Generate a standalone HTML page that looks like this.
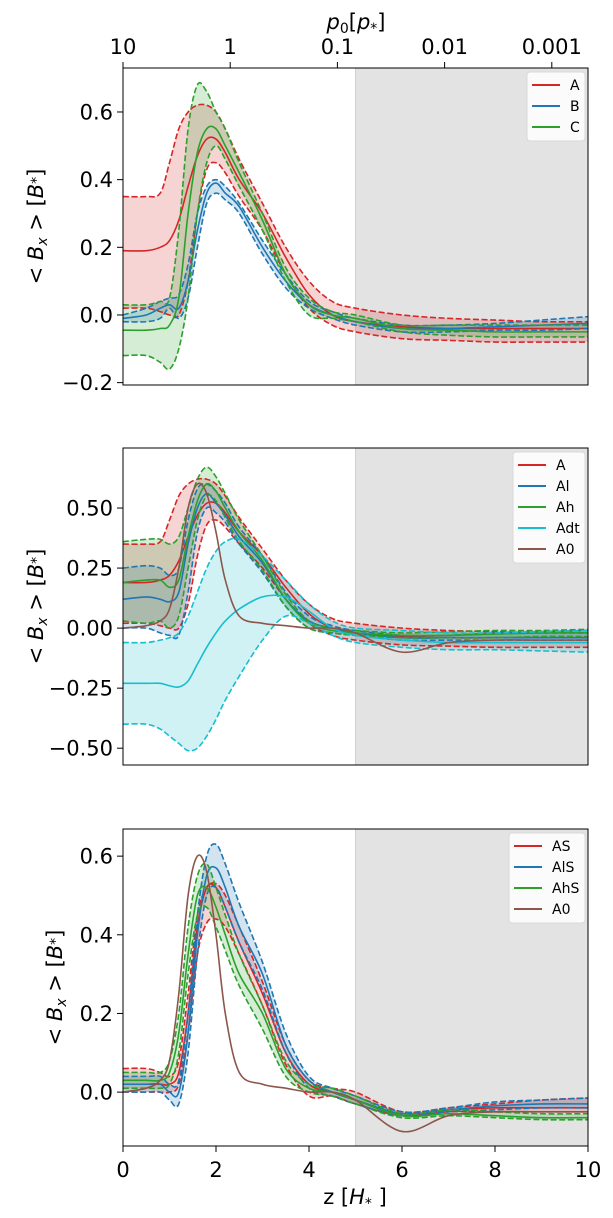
<!DOCTYPE html>
<html><head><meta charset="utf-8"><style>
html,body{margin:0;padding:0;background:#fff;}
svg{display:block;font-family:"DejaVu Sans","Liberation Sans",sans-serif;}
</style></head><body>
<svg id="fig" width="613" height="1218" viewBox="0 0 613 1218" xmlns="http://www.w3.org/2000/svg"></svg>
<script>
const zGrid=[0,0.5,0.8,1,1.2,1.4,1.6,1.8,2,2.2,2.5,3,3.5,4,4.5,5,6,7,8,9,10];
// Panel 1
const p1_A=[0.19,0.19,0.2,0.22,0.28,0.38,0.47,0.52,0.52,0.48,0.4,0.3,0.17,0.06,0.0,-0.02,-0.035,-0.04,-0.04,-0.04,-0.04];
const p1_A_up=[0.35,0.35,0.36,0.45,0.55,0.6,0.62,0.62,0.6,0.55,0.46,0.33,0.2,0.1,0.04,0.02,0.0,-0.01,-0.015,-0.02,-0.02];
const p1_A_lo=[0.02,0.02,0.01,0.0,0.0,0.1,0.3,0.43,0.45,0.42,0.35,0.25,0.12,0.02,-0.03,-0.05,-0.07,-0.075,-0.08,-0.08,-0.08];
const p1_B=[-0.01,0.0,0.02,0.03,0.02,0.1,0.25,0.36,0.39,0.36,0.32,0.2,0.1,0.03,0.0,-0.02,-0.04,-0.04,-0.035,-0.03,-0.025];
const p1_B_up=[0.0,0.02,0.04,0.05,0.06,0.15,0.3,0.38,0.4,0.38,0.33,0.22,0.12,0.04,0.01,-0.01,-0.03,-0.03,-0.025,-0.015,-0.005];
const p1_B_lo=[-0.02,-0.02,-0.01,0.02,-0.01,0.05,0.2,0.33,0.36,0.34,0.3,0.18,0.08,0.02,-0.01,-0.03,-0.05,-0.05,-0.045,-0.045,-0.04];
const p1_C=[-0.045,-0.045,-0.04,-0.03,0.05,0.3,0.48,0.55,0.55,0.5,0.42,0.28,0.12,0.03,0.0,-0.01,-0.04,-0.045,-0.05,-0.05,-0.05];
const p1_C_up=[0.03,0.03,0.04,0.05,0.25,0.55,0.68,0.66,0.6,0.55,0.45,0.3,0.14,0.05,0.01,0.0,-0.03,-0.03,-0.03,-0.03,-0.03];
const p1_C_lo=[-0.12,-0.12,-0.14,-0.16,-0.1,0.05,0.3,0.45,0.5,0.46,0.38,0.25,0.1,0.0,-0.01,-0.02,-0.05,-0.06,-0.065,-0.065,-0.065];
// Panel 2
const p2_Al=[0.12,0.13,0.12,0.11,0.15,0.35,0.5,0.56,0.52,0.47,0.38,0.27,0.12,0.03,0.0,-0.02,-0.04,-0.04,-0.04,-0.04,-0.04];
const p2_Al_up=[0.25,0.26,0.25,0.22,0.25,0.45,0.58,0.6,0.57,0.52,0.42,0.3,0.15,0.05,0.01,-0.01,-0.03,-0.03,-0.02,-0.015,-0.01];
const p2_Al_lo=[0.0,0.0,-0.02,-0.03,-0.03,0.15,0.4,0.5,0.48,0.44,0.35,0.23,0.09,0.0,-0.02,-0.03,-0.05,-0.05,-0.05,-0.05,-0.05];
const p2_Ah=[0.19,0.2,0.2,0.17,0.2,0.38,0.53,0.6,0.57,0.5,0.4,0.28,0.12,0.02,-0.01,-0.02,-0.03,-0.03,-0.025,-0.02,-0.02];
const p2_Ah_up=[0.36,0.37,0.37,0.35,0.38,0.5,0.62,0.67,0.63,0.56,0.45,0.3,0.14,0.03,0.0,-0.01,-0.02,-0.015,-0.01,-0.01,-0.005];
const p2_Ah_lo=[0.03,0.02,0.03,0.0,0.05,0.25,0.45,0.55,0.53,0.46,0.36,0.24,0.09,0.0,-0.02,-0.03,-0.04,-0.04,-0.04,-0.035,-0.035];
const p2_Adt=[-0.23,-0.23,-0.23,-0.24,-0.245,-0.22,-0.15,-0.08,-0.02,0.03,0.08,0.13,0.13,0.07,0.0,-0.03,-0.05,-0.06,-0.06,-0.06,-0.06];
const p2_Adt_up=[-0.06,-0.06,-0.05,-0.04,-0.02,0.05,0.15,0.25,0.32,0.36,0.37,0.3,0.2,0.1,0.03,0.0,-0.01,-0.02,-0.02,-0.015,-0.01];
const p2_Adt_lo=[-0.4,-0.4,-0.42,-0.45,-0.48,-0.51,-0.5,-0.45,-0.38,-0.3,-0.2,-0.05,0.05,0.02,-0.03,-0.06,-0.08,-0.09,-0.09,-0.095,-0.1];
const A0=[0.0,0.01,0.03,0.08,0.25,0.5,0.6,0.56,0.4,0.2,0.05,0.02,0.01,0.0,0.0,-0.02,-0.1,-0.06,-0.05,-0.05,-0.05];
// Panel 3
const p3_AS=[0.02,0.02,0.02,0.02,0.05,0.2,0.42,0.52,0.52,0.47,0.38,0.25,0.1,0.02,0.0,-0.02,-0.055,-0.045,-0.04,-0.04,-0.04];
const p3_AS_up=[0.06,0.06,0.05,0.04,0.08,0.25,0.45,0.52,0.53,0.5,0.42,0.28,0.12,0.03,0.01,0.0,-0.05,-0.04,-0.03,-0.02,-0.015];
const p3_AS_lo=[0.0,0.0,0.0,0.0,0.02,0.15,0.35,0.43,0.44,0.42,0.35,0.22,0.07,-0.01,-0.01,-0.03,-0.06,-0.05,-0.05,-0.05,-0.05];
const p3_AlS=[0.02,0.02,0.02,0.0,0.0,0.15,0.4,0.55,0.57,0.52,0.42,0.3,0.12,0.03,0.0,-0.02,-0.055,-0.045,-0.035,-0.03,-0.03];
const p3_AlS_up=[0.04,0.04,0.04,0.02,0.03,0.2,0.45,0.6,0.63,0.58,0.48,0.33,0.15,0.04,0.01,-0.01,-0.05,-0.04,-0.025,-0.02,-0.015];
const p3_AlS_lo=[0.0,0.0,0.0,-0.02,-0.03,0.1,0.35,0.5,0.52,0.47,0.38,0.26,0.1,0.01,-0.01,-0.03,-0.06,-0.05,-0.045,-0.04,-0.04];
const p3_AhS=[0.03,0.03,0.03,0.05,0.15,0.35,0.5,0.52,0.47,0.4,0.3,0.2,0.06,0.01,0.0,-0.02,-0.06,-0.055,-0.06,-0.065,-0.065];
const p3_AhS_up=[0.05,0.05,0.05,0.08,0.2,0.42,0.55,0.58,0.52,0.45,0.35,0.22,0.08,0.02,0.01,-0.01,-0.055,-0.045,-0.05,-0.055,-0.055];
const p3_AhS_lo=[0.01,0.01,0.01,0.02,0.1,0.3,0.45,0.47,0.42,0.36,0.27,0.16,0.04,0.0,-0.01,-0.03,-0.065,-0.06,-0.065,-0.07,-0.07];
const xTicks=[0,2,4,6,8,10];
const pTickLabels=["10","1","0.1","0.01","0.001"];
const p1Ticks=[-0.2,0.0,0.2,0.4,0.6];
const p2Ticks=[-0.5,-0.25,0,0.25,0.5];
const p3Ticks=[0.0,0.2,0.4,0.6];

const NS="http://www.w3.org/2000/svg";
const svg=document.getElementById('fig');
const RED="#d62728",BLUE="#1f77b4",GREEN="#2ca02c",CYAN="#17becf",BROWN="#8c564b";
const FS=21;
function el(tag,attrs,parent){const e=document.createElementNS(NS,tag);for(const k in attrs)e.setAttribute(k,attrs[k]);(parent||svg).appendChild(e);return e;}
const X0=123,X1=588;
const xs=z=>X0+(z/10)*(X1-X0);
function smoothPath(pts){
  let d=`M${pts[0][0]},${pts[0][1]}`;
  for(let i=0;i<pts.length-1;i++){
    const p0=pts[Math.max(0,i-1)],p1=pts[i],p2=pts[i+1],p3=pts[Math.min(pts.length-1,i+2)];
    const c1=[p1[0]+(p2[0]-p0[0])/6,p1[1]+(p2[1]-p0[1])/6];
    const c2=[p2[0]-(p3[0]-p1[0])/6,p2[1]-(p3[1]-p1[1])/6];
    d+=` C${c1[0]},${c1[1]} ${c2[0]},${c2[1]} ${p2[0]},${p2[1]}`;
  }
  return d;
}
function panel(cfg){
  const {top,bot,ymin,ymax,ticks,fmt,name}=cfg;
  const ys=v=>bot-(v-ymin)/(ymax-ymin)*(bot-top);
  const g=el('g',{},svg);
  
  
  const clipId=name+'-clip';
  const cp=el('clipPath',{id:clipId},g);el('rect',{x:X0,y:top,width:X1-X0,height:bot-top},cp);
  const shade=el('rect',{x:xs(5),y:top,width:xs(10)-xs(5),height:bot-top,fill:'#e3e3e3'},g);
  
  
  el('line',{x1:xs(5),x2:xs(5),y1:top,y2:bot,stroke:'#d0d0d0','stroke-width':1},g);
  const plot=el('g',{'clip-path':`url(#${clipId})`},g);
  const toPts=arr=>arr.map((v,i)=>[xs(zGrid[i]),ys(v)]);
  cfg.series.forEach(s=>{
    if(s.up){
      const up=toPts(s.up),lo=toPts(s.lo).reverse();
      const d=smoothPath(up)+' L'+smoothPath(lo).slice(1)+' Z';
      const f=el('path',{d:d,fill:s.c,'fill-opacity':0.2,stroke:'none'},plot);
      
      
    }
  });
  cfg.series.forEach(s=>{
    if(s.up){
      [s.up,s.lo].forEach((a,k)=>{
        const p=el('path',{d:smoothPath(toPts(a)),fill:'none',stroke:s.c,'stroke-width':1.6,'stroke-dasharray':'6,2.6'},plot);
        
        
      });
    }
    const m=el('path',{d:smoothPath(toPts(s.m)),fill:'none',stroke:s.c,'stroke-width':1.6},plot);
    
    
  });
  el('rect',{x:X0,y:top,width:X1-X0,height:bot-top,fill:'none',stroke:'#000','stroke-width':1},g);
  ticks.forEach(t=>{
    const y=ys(t);
    el('line',{x1:X0-6,x2:X0,y1:y,y2:y,stroke:'#000'},g);
    const tx=el('text',{x:X0-10,y:y+7.5,'text-anchor':'end','font-size':FS},g);
    tx.textContent=fmt(t);
    
    
  });
  const yl=el('text',{transform:`translate(${cfg.labelX},${(top+bot)/2}) rotate(-90)`,'text-anchor':'middle','font-size':FS},g);
  yl.innerHTML='&lt; <tspan font-style="italic">B</tspan><tspan font-size="14" dy="4" font-style="italic">x</tspan><tspan dy="-4"> &gt;  [</tspan><tspan font-style="italic">B</tspan><tspan font-size="14" dy="-2">*</tspan><tspan dy="2">]</tspan>';
  
  
  const L=cfg.legend;
  const lg=el('g',{},g);
  
  
  el('rect',{x:L.x,y:L.y,width:L.w,height:cfg.series.length*21+6,rx:3,fill:'#fff','fill-opacity':0.85,stroke:'#d8d8d8'},lg);
  cfg.series.forEach((s,i)=>{
    const yy=L.y+13+i*21;
    const e=el('g',{},lg);
    
    
    el('line',{x1:L.x+5,x2:L.x+33,y1:yy,y2:yy,stroke:s.c,'stroke-width':2},e);
    const t=el('text',{x:L.x+43,y:yy+5,'font-size':14},e);t.textContent=s.n;
  });
  return ys;
}
panel({name:'panel-top',top:68,bot:385,ymin:-0.207,ymax:0.73,ticks:p1Ticks,fmt:t=>(t<0?'\u2212':'')+Math.abs(t).toFixed(1),labelX:43,
 legend:{x:527,y:72,w:58},
 series:[{n:'A',c:RED,m:p1_A,up:p1_A_up,lo:p1_A_lo},{n:'B',c:BLUE,m:p1_B,up:p1_B_up,lo:p1_B_lo},{n:'C',c:GREEN,m:p1_C,up:p1_C_up,lo:p1_C_lo}]});
panel({name:'panel-middle',top:448,bot:765,ymin:-0.57,ymax:0.75,ticks:p2Ticks,fmt:t=>(t<0?'\u2212':'')+Math.abs(t).toFixed(2),labelX:43,
 legend:{x:513,y:452,w:72},
 series:[{n:'A',c:RED,m:p1_A,up:p1_A_up,lo:p1_A_lo},{n:'Al',c:BLUE,m:p2_Al,up:p2_Al_up,lo:p2_Al_lo},{n:'Ah',c:GREEN,m:p2_Ah,up:p2_Ah_up,lo:p2_Ah_lo},{n:'Adt',c:CYAN,m:p2_Adt,up:p2_Adt_up,lo:p2_Adt_lo},{n:'A0',c:BROWN,m:A0}]});
panel({name:'panel-bottom',top:829,bot:1146,ymin:-0.137,ymax:0.669,ticks:p3Ticks,fmt:t=>t.toFixed(1),labelX:62,
 legend:{x:509,y:833,w:76},
 series:[{n:'AS',c:RED,m:p3_AS,up:p3_AS_up,lo:p3_AS_lo},{n:'AlS',c:BLUE,m:p3_AlS,up:p3_AlS_up,lo:p3_AlS_lo},{n:'AhS',c:GREEN,m:p3_AhS,up:p3_AhS_up,lo:p3_AhS_lo},{n:'A0',c:BROWN,m:A0}]});
xTicks.forEach(t=>{
  el('line',{x1:xs(t),x2:xs(t),y1:1146,y2:1152,stroke:'#000'});
  const tx=el('text',{x:xs(t),y:1177,'text-anchor':'middle','font-size':FS});
  tx.textContent=t;
  
  
});
const xl=el('text',{x:355,y:1204,'text-anchor':'middle','font-size':FS});
xl.innerHTML='z [<tspan font-style="italic">H</tspan><tspan font-size="14" dy="4">*</tspan><tspan dy="-4"> ]</tspan>';


pTickLabels.forEach((lab,i)=>{
  const x=X0+i*107.2;
  el('line',{x1:x,x2:x,y1:62,y2:68,stroke:'#000'});
  const tx=el('text',{x:x,y:54,'text-anchor':'middle','font-size':FS});
  tx.textContent=lab;
  
  
});
const tl=el('text',{x:356,y:29,'text-anchor':'middle','font-size':FS});
tl.innerHTML='<tspan font-style="italic">p</tspan><tspan font-size="14" dy="4">0</tspan><tspan dy="-4">[</tspan><tspan font-style="italic">p</tspan><tspan font-size="14" dy="4">*</tspan><tspan dy="-4">]</tspan>';


</script>
</body></html>
